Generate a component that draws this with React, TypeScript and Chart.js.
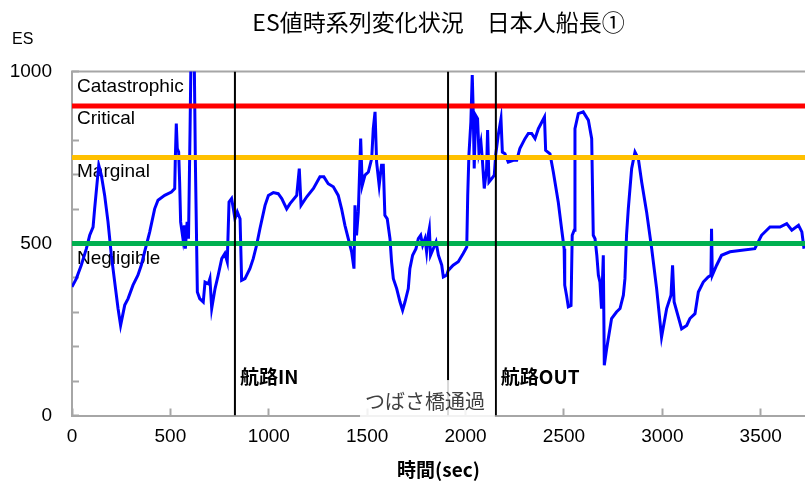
import React, { useEffect, useRef } from 'react';
import { Chart, registerables } from 'chart.js';

Chart.register(...registerables);

// ---- Data ----
const times = [
  0, 22, 47, 73, 90, 107, 115, 136, 149, 166, 183, 200, 217, 234, 247, 268, 285, 310, 335, 352,
  369, 395, 420, 437, 471, 505, 522, 525, 530, 535, 542, 547, 552, 564, 571, 576, 585, 592, 600, 606,
  620, 627, 637, 649, 667, 676, 693, 701, 710, 727, 743, 761, 777, 789, 798, 811, 820, 828, 840, 854,
  862, 879, 904, 921, 938, 955, 981, 998, 1023, 1048, 1066, 1091, 1108, 1142, 1155, 1164, 1193, 1227, 1260, 1280,
  1302, 1328, 1353, 1370, 1387, 1404, 1421, 1433, 1438, 1446, 1455, 1467, 1475, 1489, 1506, 1523, 1531, 1540, 1548, 1561,
  1573, 1582, 1590, 1602, 1616, 1624, 1633, 1650, 1667, 1680, 1692, 1709, 1717, 1731, 1748, 1760, 1772, 1782, 1794, 1802,
  1810, 1816, 1822, 1836, 1850, 1862, 1879, 1887, 1904, 1912, 1937, 1963, 1988, 2006, 2011, 2017, 2027, 2034, 2039, 2044,
  2051, 2061, 2068, 2078, 2085, 2095, 2107, 2112, 2119, 2133, 2146, 2153, 2166, 2180, 2187, 2200, 2217, 2243, 2260, 2276,
  2302, 2319, 2336, 2353, 2370, 2401, 2407, 2429, 2446, 2471, 2488, 2501, 2504, 2513, 2522, 2536, 2542, 2552, 2556, 2573,
  2598, 2624, 2641, 2649, 2658, 2667, 2675, 2683, 2691, 2700, 2705, 2717, 2742, 2767, 2785, 2802, 2810, 2818, 2827, 2844,
  2861, 2878, 2895, 2920, 2946, 2971, 2996, 3022, 3044, 3052, 3060, 3098, 3124, 3140, 3166, 3183, 3208, 3233, 3247, 3250,
  3254, 3276, 3301, 3344, 3394, 3470, 3504, 3547, 3598, 3632, 3658, 3692, 3709, 3720,
];

const esValues = [
  374, 398, 437, 485, 524, 548, 601, 728, 699, 640, 563, 466, 388, 311, 262, 321, 340, 379, 408, 437,
  476, 534, 601, 626, 640, 650, 660, 747, 849, 776, 766, 679, 563, 514, 553, 485, 563, 514, 834, 1100,
  1100, 737, 359, 340, 330, 388, 383, 398, 311, 369, 408, 456, 471, 447, 621, 631, 601, 572, 592, 572,
  393, 398, 427, 456, 495, 543, 611, 640, 648, 645, 631, 601, 616, 640, 718, 611, 636, 660, 694, 694,
  674, 665, 640, 601, 553, 514, 476, 427, 611, 524, 592, 805, 669, 699, 708, 747, 834, 883, 737, 669,
  728, 728, 582, 572, 514, 447, 398, 369, 330, 306, 330, 369, 427, 466, 485, 514, 524, 495, 514, 476,
  524, 543, 466, 485, 505, 466, 437, 403, 408, 422, 437, 447, 471, 490, 640, 757, 854, 990, 883, 718,
  873, 863, 766, 795, 747, 660, 718, 830, 679, 689, 699, 757, 815, 863, 766, 761, 737, 742, 742, 776,
  805, 820, 820, 805, 834, 868, 771, 761, 708, 621, 543, 485, 379, 350, 316, 320, 524, 539, 834, 878,
  883, 859, 805, 524, 514, 466, 408, 388, 311, 466, 146, 194, 282, 301, 311, 350, 398, 524, 601, 718,
  766, 747, 679, 592, 485, 369, 228, 311, 350, 437, 330, 252, 262, 282, 296, 359, 388, 403, 408, 543,
  408, 437, 466, 476, 480, 485, 524, 548, 548, 558, 539, 553, 534, 485,
];

const thresholdValues = [900, 750, 500];
const thresholdColors = ['#FF0000', '#FFC000', '#00B050'];
const zoneNames = ['Catastrophic', 'Critical', 'Marginal', 'Negligible'];
const eventTimes = [828, 1911, 2154];
const eventLabels = ['航路IN', 'つばさ橋通過', '航路OUT'];
const xTickValues = [0, 500, 1000, 1500, 2000, 2500, 3000, 3500];
const yLabelValues = [0, 500, 1000];
const xMin = 0;
const xMax = 3725;
const yMin = 0;
const yMax = 1000;
const yTickStep = 100;

const titleText = 'ES値時系列変化状況　日本人船長①';
const yAxisLabel = 'ES';
const xAxisLabel = '時間(sec)';

const AXIS_GRAY = '#a6a6a6';
const CJK = '"Noto Sans CJK JP", sans-serif';
const LAT = '"Liberation Sans", Arial, sans-serif';

export default function App() {
  const ref = useRef<HTMLCanvasElement | null>(null);

  useEffect(() => {
    document.body.style.margin = '0';
    const canvas = ref.current;
    if (!canvas) return;

    const decor = {
      id: 'decor',
      beforeDatasetsDraw(chart: any) {
        const { ctx, chartArea, scales } = chart;
        const ys = scales.y;
        ctx.save();
        ctx.strokeStyle = AXIS_GRAY;
        ctx.lineWidth = 2;
        ctx.beginPath();
        ctx.moveTo(chartArea.left, chartArea.top);
        ctx.lineTo(chartArea.right, chartArea.top);
        ctx.stroke();
        const anchors = [955, 862, 708, 455];
        ctx.font = '19px ' + LAT;
        ctx.fillStyle = '#000';
        ctx.textAlign = 'left';
        ctx.textBaseline = 'middle';
        zoneNames.forEach((n, i) => {
          ctx.fillText(n, chartArea.left + 5, ys.getPixelForValue(anchors[i]));
        });
        ctx.restore();
      },
      afterDatasetsDraw(chart: any) {
        const { ctx, chartArea, scales } = chart;
        const xs = scales.x;
        const ys = scales.y;
        ctx.save();
        const bx1 = xs.getPixelForValue(eventTimes[1]) - 88;
        const bx2 = xs.getPixelForValue(eventTimes[2]) - 1;
        const by1 = ys.getPixelForValue(103);
        const by2 = chartArea.bottom + 2;
        ctx.fillStyle = 'rgba(255,255,255,0.85)';
        ctx.fillRect(bx1, by1, bx2 - bx1, by2 - by1);
        ctx.font = '20px ' + CJK;
        ctx.fillStyle = '#404040';
        ctx.textAlign = 'left';
        ctx.textBaseline = 'middle';
        ctx.fillText(eventLabels[1], bx1 + 5, ys.getPixelForValue(40));
        ctx.font = 'bold 19px ' + CJK;
        ctx.fillStyle = '#000';
        ctx.fillText(eventLabels[0], xs.getPixelForValue(eventTimes[0]) + 5, ys.getPixelForValue(114));
        ctx.fillText(eventLabels[2], xs.getPixelForValue(eventTimes[2]) + 5, ys.getPixelForValue(114));
        ctx.restore();
      },
      afterDraw(chart: any) {
        const { ctx } = chart;
        ctx.save();
        ctx.font = '16px ' + LAT;
        ctx.fillStyle = '#000';
        ctx.textAlign = 'left';
        ctx.textBaseline = 'middle';
        ctx.fillText(yAxisLabel, 12, 40);
        ctx.restore();
      },
    };

    const datasets: any[] = [];
    datasets.push({
      label: 'ES',
      data: times.map((t, i) => ({ x: t, y: esValues[i] })),
      borderColor: '#0000FF',
      borderWidth: 3,
      pointRadius: 0,
      tension: 0,
      order: 10,
    });
    thresholdValues.forEach((v, i) => {
      datasets.push({
        label: 't' + i,
        data: [{ x: xMin, y: v }, { x: xMax, y: v }],
        borderColor: thresholdColors[i],
        borderWidth: 5,
        pointRadius: 0,
        order: 5,
      });
    });
    eventTimes.forEach((t, i) => {
      datasets.push({
        label: 'e' + i,
        data: [{ x: t, y: yMin }, { x: t, y: yMax }],
        borderColor: '#000000',
        borderWidth: 2,
        pointRadius: 0,
        order: 1,
      });
    });

    const chart = new Chart(canvas, {
      type: 'line',
      data: { datasets },
      options: {
        animation: false,
        responsive: false,
        devicePixelRatio: 1,
        layout: { padding: { top: 0, left: 0, right: 0, bottom: 0 } },
        plugins: {
          legend: { display: false },
          tooltip: { enabled: false },
          title: {
            display: true,
            text: titleText,
            fullSize: false,
            color: '#000',
            font: { family: CJK, size: 23, weight: 'normal', lineHeight: 1.2 },
            padding: { top: 8, bottom: 36 },
          },
        },
        scales: {
          x: {
            type: 'linear',
            min: xMin,
            max: xMax,
            border: { display: true, color: AXIS_GRAY, width: 2 },
            grid: {
              display: true,
              drawOnChartArea: false,
              drawTicks: true,
              tickLength: -7,
              tickWidth: 2,
              tickColor: AXIS_GRAY,
            },
            afterBuildTicks: (s: any) => {
              s.ticks = xTickValues.map((v) => ({ value: v }));
            },
            ticks: {
              maxRotation: 0,
              minRotation: 0,
              autoSkip: false,
              color: '#000',
              font: { family: LAT, size: 19 },
              padding: 17,
              callback: (v: any) => String(v),
            },
            title: {
              display: true,
              text: xAxisLabel,
              color: '#000',
              font: { family: CJK, size: 19, weight: 'bold', lineHeight: 1.2 },
              padding: { top: 0, bottom: 5 },
            },
            afterFit: (s: any) => {
              s.height = 70.5;
            },
          },
          y: {
            type: 'linear',
            min: yMin,
            max: yMax,
            border: { display: true, color: AXIS_GRAY, width: 2 },
            grid: {
              display: true,
              drawOnChartArea: false,
              drawTicks: true,
              tickLength: -7,
              tickWidth: 2,
              tickColor: AXIS_GRAY,
            },
            ticks: {
              stepSize: yTickStep,
              autoSkip: false,
              color: '#000',
              font: { family: LAT, size: 19 },
              padding: 27,
              callback: (v: any) => (yLabelValues.includes(Number(v)) ? String(v) : ''),
            },
            afterFit: (s: any) => {
              s.width = 72;
            },
          },
        },
      },
      plugins: [decor],
    } as any);

    return () => chart.destroy();
  }, []);

  return (
    <div style={{ width: 805, height: 486 }}>
      <canvas ref={ref} width={805} height={486} style={{ display: 'block' }} />
    </div>
  );
}
